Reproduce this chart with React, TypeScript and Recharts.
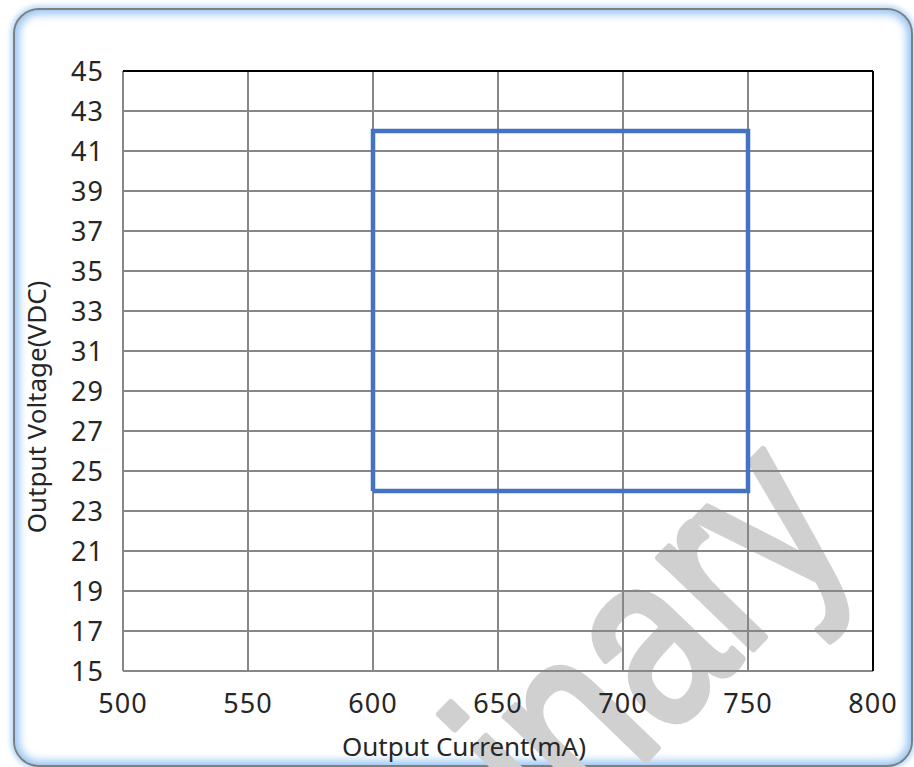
import React from "react";
import {
  CartesianGrid,
  Label,
  Line,
  LineChart,
  ReferenceLine,
  XAxis,
  YAxis,
} from "recharts";

// operating window, traced corner to corner
const boundaryCurrent = [600, 600, 750, 750, 600];
const boundaryVoltage = [24, 42, 42, 24, 24];

const currentTicks = [500, 550, 600, 650, 700, 750, 800];
const voltageTicks = [15, 17, 19, 21, 23, 25, 27, 29, 31, 33, 35, 37, 39, 41, 43, 45];

const data = boundaryCurrent.map((c, i) => ({ current: c, voltage: boundaryVoltage[i] }));

const FONT = "'Noto Sans', sans-serif";
const tick = { fontSize: 27, fill: "#262626", fontFamily: FONT, letterSpacing: 1 };
const titleStyle = { fontSize: 26, fill: "#262626", fontFamily: FONT };

const YTitle = (props: any) => {
  const vb = props.viewBox || {};
  const cx = vb.x - 26;
  const cy = vb.y + vb.height / 2 + 36;
  return (
    <text
      x={cx}
      y={cy}
      transform={`rotate(-90, ${cx}, ${cy})`}
      textAnchor="middle"
      dy="0.36em"
      style={titleStyle}
    >
      Output Voltage(VDC)
    </text>
  );
};

export default function App() {
  return (
    <div
      style={{
        position: "absolute",
        left: 0,
        top: 0,
        width: 914,
        height: 767,
        overflow: "hidden",
        background: "#fff",
      }}
    >
      <div
        style={{
          position: "absolute",
          left: 13,
          top: 8,
          width: 896,
          height: 755,
          border: "2px solid #7f7f7f",
          borderRadius: 26,
          boxShadow:
            "inset 0 0 9px 4px rgba(120,180,240,0.8), 0 0 4px 3px rgba(150,200,250,0.6)",
          background: "#fff",
        }}
      />
      <svg
        width={914}
        height={767}
        style={{ position: "absolute", left: 0, top: 0 }}
      >
        <text
          transform="translate(858,540) rotate(-46) scale(0.8,1)"
          textAnchor="end"
          fontSize={248}
          fontFamily="'Liberation Sans', Arial, sans-serif"
          fill="#d0d0d0"
          stroke="#d0d0d0"
          strokeWidth={7}
          strokeLinejoin="round"
        >
          Preliminary
        </text>
      </svg>
      <div style={{ position: "absolute", left: 0, top: 0 }}>
        <LineChart
          width={914}
          height={767}
          data={data}
          margin={{ top: 71, right: 41, bottom: 66, left: 63 }}
        >
          <CartesianGrid stroke="#878787" strokeWidth={2} />
          <XAxis
            type="number"
            dataKey="current"
            domain={[500, 800]}
            ticks={currentTicks}
            height={30}
            axisLine={false}
            tickLine={false}
            tickSize={0}
            tickMargin={23}
            tick={tick}
            interval={0}
          >
            <Label
              value="Output Current(mA)"
              position="bottom"
              offset={37}
              dx={-34}
              style={titleStyle}
            />
          </XAxis>
          <YAxis
            type="number"
            domain={[15, 45]}
            ticks={voltageTicks}
            width={60}
            axisLine={false}
            tickLine={false}
            tickSize={0}
            tickMargin={19}
            tick={tick}
            interval={0}
          >
            <Label content={YTitle} />
          </YAxis>
          <ReferenceLine y={45} stroke="#000" strokeWidth={2} />
          <ReferenceLine x={800} stroke="#000" strokeWidth={2} />
          <Line
            type="linear"
            dataKey="voltage"
            stroke="#4472C4"
            strokeWidth={4.5}
            dot={false}
            activeDot={false}
            isAnimationActive={false}
          />
        </LineChart>
      </div>
    </div>
  );
}
